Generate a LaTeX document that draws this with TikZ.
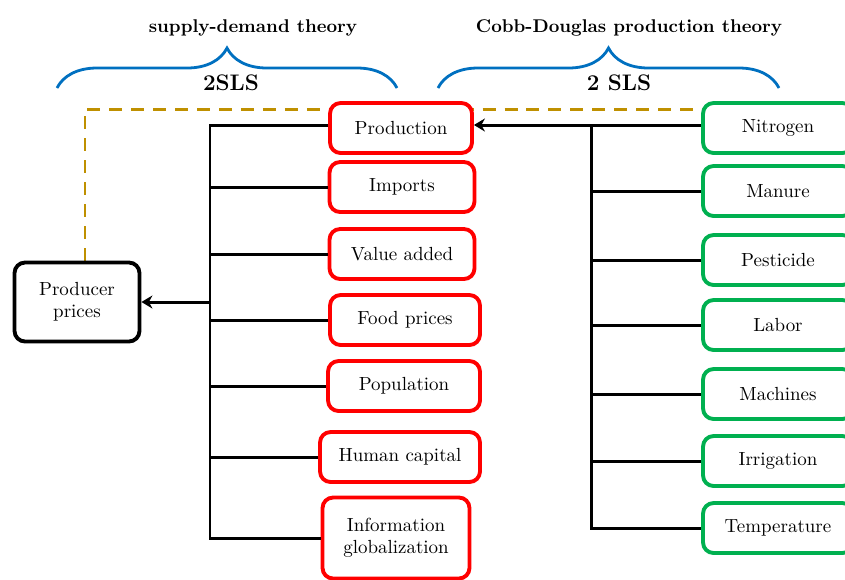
\documentclass[tikz,border=0pt]{standalone}
\definecolor{brred}{RGB}{255,0,0}
\definecolor{brgreen}{RGB}{0,176,80}
\definecolor{brblue}{RGB}{0,112,192}
\definecolor{brgold}{RGB}{191,144,0}
\usetikzlibrary{arrows.meta,positioning,decorations.pathreplacing,backgrounds,calc}

\begin{document}
\begin{tikzpicture}[x=0.02cm,y=-0.02cm,
  varbox/.style={draw,line width=2.2pt,rounded corners=6pt,fill=white,minimum height=1cm,
    font=\fontsize{10.8}{12.8}\selectfont,align=center},
  redbox/.style={varbox,draw=brred},
  greenbox/.style={varbox,draw=brgreen,minimum width=3cm},
  link/.style={line width=1.7pt},
  arr/.style={-{Stealth[length=2.2mm,width=2.6mm]},line width=1.7pt},
  goldline/.style={brgold,line width=1.7pt,dash pattern=on 7.4pt off 5.1pt},
  bracelbl/.style={decorate,decoration={brace,amplitude=0.8cm},brblue,line width=1.6pt},
  theory/.style={font=\fontsize{10.5}{12}\selectfont\bfseries},
  method/.style={font=\fontsize{12.8}{14}\selectfont\bfseries}
]
  \useasboundingbox (0,0) rectangle (845,579);

  % Headings and braces
  \node[theory] (sdt) at (253,28) {supply-demand theory};
  \node[theory] (cdt) at (629,28) {Cobb-Douglas production theory};
  \draw[bracelbl] (57,88) -- (397,88);
  \draw[bracelbl] (438,88) -- (779,88);
  \node[method] (sls1) at (231,83) {2SLS};
  \node[method] (sls2) at (619,83) {2 SLS};

  % Output variable
  \node[varbox,minimum width=2.5cm,minimum height=1.58cm] (pp) at (77,302) {Producer\\prices};

  % Supply-demand variables
  \node[redbox,minimum width=2.84cm] (prod) at (401,128) {Production};
  \node[redbox,minimum width=2.9cm] (imp) at (402,187) {Imports};
  \node[redbox,minimum width=2.9cm] (va) at (402,254) {Value added};
  \node[redbox,minimum width=3cm] (fp) at (405,320) {Food prices};
  \node[redbox,minimum width=3.04cm] (pop) at (404,386) {Population};
  \node[redbox,minimum width=3.2cm] (hc) at (400,457) {Human capital};
  \node[redbox,minimum width=2.94cm,minimum height=1.62cm] (info) at (396,538) {Information\\globalization};

  % Production inputs
  \node[greenbox] (nit) at (778,128) {Nitrogen};
  \node[greenbox] (man) at (778,191) {Manure};
  \node[greenbox] (pest) at (778,260) {Pesticide};
  \node[greenbox] (lab) at (778,325) {Labor};
  \node[greenbox] (mach) at (778,394) {Machines};
  \node[greenbox] (irr) at (778,461) {Irrigation};
  \node[greenbox] (temp) at (778,528) {Temperature};

  % Dashed link behind the boxes
  \begin{scope}[on background layer]
    \draw[goldline] ($(pp.north)+(8,0)$) |- ($(nit.north west)+(0,8)$);
  \end{scope}

  % Left tree
  \coordinate (ltop) at (210,125);
  \coordinate (lbot) at (210,538);
  \draw[link] ($(prod.west)+(0,-3)$) -- (ltop) -- (lbot) -- (info.west);
  \foreach \v in {imp,va,fp,pop,hc}
    \draw[link] (\v.west) -- (\v.west -| ltop);
  \draw[arr] (pp.east -| ltop) -- (pp.east);

  % Right tree
  \coordinate (rtop) at (591,125);
  \coordinate (rbot) at (591,528);
  \draw[arr] ($(nit.west)+(0,-3)$) -- ($(prod.east)+(0,-3)$);
  \draw[link] (rtop) -- (rbot) -- (temp.west);
  \foreach \v in {man,pest,lab,mach,irr}
    \draw[link] (\v.west) -- (\v.west -| rtop);
\end{tikzpicture}
\end{document}
